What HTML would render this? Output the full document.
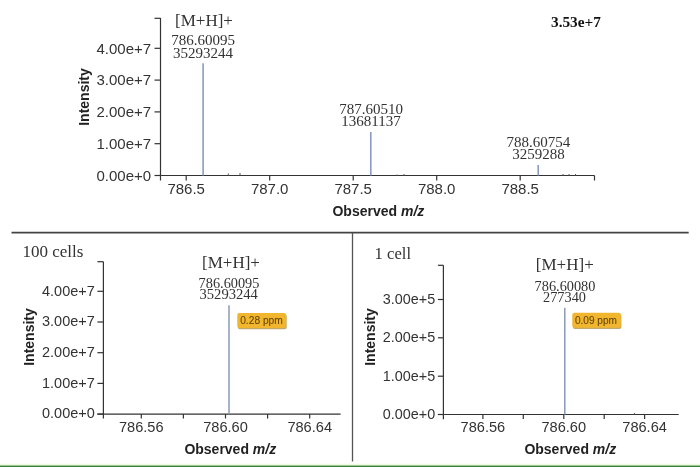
<!DOCTYPE html>
<html><head><meta charset="utf-8"><style>
html,body{margin:0;padding:0;background:#fff;width:700px;height:467px;overflow:hidden}
svg{display:block;will-change:transform}
</style></head><body>
<svg width="700" height="467" viewBox="0 0 700 467">
<rect width="700" height="467" fill="#fff"/>
<line x1="160.5" y1="18" x2="160.5" y2="180.5" stroke="#333" stroke-width="1.2"/>
<line x1="154.5" y1="18.3" x2="160.5" y2="18.3" stroke="#333" stroke-width="1.2"/>
<line x1="154.5" y1="175.5" x2="160.5" y2="175.5" stroke="#333" stroke-width="1.2"/>
<text x="151.1" y="180.7" font-family="Liberation Sans" font-size="15" font-weight="normal" text-anchor="end" fill="#333" >0.00e+0</text>
<line x1="154.5" y1="143.7" x2="160.5" y2="143.7" stroke="#333" stroke-width="1.2"/>
<text x="151.1" y="148.89999999999998" font-family="Liberation Sans" font-size="15" font-weight="normal" text-anchor="end" fill="#333" >1.00e+7</text>
<line x1="154.5" y1="111.9" x2="160.5" y2="111.9" stroke="#333" stroke-width="1.2"/>
<text x="151.1" y="117.10000000000001" font-family="Liberation Sans" font-size="15" font-weight="normal" text-anchor="end" fill="#333" >2.00e+7</text>
<line x1="154.5" y1="80.1" x2="160.5" y2="80.1" stroke="#333" stroke-width="1.2"/>
<text x="151.1" y="85.3" font-family="Liberation Sans" font-size="15" font-weight="normal" text-anchor="end" fill="#333" >3.00e+7</text>
<line x1="154.5" y1="48.3" x2="160.5" y2="48.3" stroke="#333" stroke-width="1.2"/>
<text x="151.1" y="53.5" font-family="Liberation Sans" font-size="15" font-weight="normal" text-anchor="end" fill="#333" >4.00e+7</text>
<line x1="155" y1="175.5" x2="594.5" y2="175.5" stroke="#333" stroke-width="1.2"/>
<line x1="594.5" y1="175.5" x2="594.5" y2="180.5" stroke="#333" stroke-width="1.2"/>
<line x1="186.2" y1="175.5" x2="186.2" y2="180.5" stroke="#333" stroke-width="1.2"/>
<text x="186.2" y="194.4" font-family="Liberation Sans" font-size="15" font-weight="normal" text-anchor="middle" fill="#333" >786.5</text>
<line x1="269.7" y1="175.5" x2="269.7" y2="180.5" stroke="#333" stroke-width="1.2"/>
<text x="269.7" y="194.4" font-family="Liberation Sans" font-size="15" font-weight="normal" text-anchor="middle" fill="#333" >787.0</text>
<line x1="353.2" y1="175.5" x2="353.2" y2="180.5" stroke="#333" stroke-width="1.2"/>
<text x="353.2" y="194.4" font-family="Liberation Sans" font-size="15" font-weight="normal" text-anchor="middle" fill="#333" >787.5</text>
<line x1="436.7" y1="175.5" x2="436.7" y2="180.5" stroke="#333" stroke-width="1.2"/>
<text x="436.7" y="194.4" font-family="Liberation Sans" font-size="15" font-weight="normal" text-anchor="middle" fill="#333" >788.0</text>
<line x1="520.2" y1="175.5" x2="520.2" y2="180.5" stroke="#333" stroke-width="1.2"/>
<text x="520.2" y="194.4" font-family="Liberation Sans" font-size="15" font-weight="normal" text-anchor="middle" fill="#333" >788.5</text>
<line x1="203.1" y1="63.3" x2="203.1" y2="175.5" stroke="#8a9cc4" stroke-width="1.6"/>
<line x1="370.8" y1="132" x2="370.8" y2="175.5" stroke="#8a9cc4" stroke-width="1.6"/>
<line x1="538.2" y1="165" x2="538.2" y2="175.5" stroke="#8a9cc4" stroke-width="1.6"/>
<line x1="228.3" y1="173.5" x2="228.3" y2="175.5" stroke="#555" stroke-width="1"/>
<line x1="240" y1="173.0" x2="240" y2="175.5" stroke="#555" stroke-width="1"/>
<line x1="397" y1="174.5" x2="397" y2="175.5" stroke="#555" stroke-width="1"/>
<line x1="404" y1="174.0" x2="404" y2="175.5" stroke="#555" stroke-width="1"/>
<line x1="563" y1="174.0" x2="563" y2="175.5" stroke="#555" stroke-width="1"/>
<line x1="569" y1="174.0" x2="569" y2="175.5" stroke="#555" stroke-width="1"/>
<line x1="575.5" y1="174.0" x2="575.5" y2="175.5" stroke="#555" stroke-width="1"/>
<text x="204" y="26.4" font-family="Liberation Serif" font-size="17" font-weight="normal" text-anchor="middle" fill="#333" >[M+H]+</text>
<text x="203.2" y="44.8" font-family="Liberation Serif" font-size="15" font-weight="normal" text-anchor="middle" fill="#333" >786.60095</text>
<text x="203" y="57.6" font-family="Liberation Serif" font-size="15" font-weight="normal" text-anchor="middle" fill="#333" >35293244</text>
<text x="371" y="113.6" font-family="Liberation Serif" font-size="15" font-weight="normal" text-anchor="middle" fill="#333" >787.60510</text>
<text x="371" y="126.2" font-family="Liberation Serif" font-size="15" font-weight="normal" text-anchor="middle" fill="#333" >13681137</text>
<text x="538.4" y="146.9" font-family="Liberation Serif" font-size="15" font-weight="normal" text-anchor="middle" fill="#333" >788.60754</text>
<text x="538.4" y="159.4" font-family="Liberation Serif" font-size="15" font-weight="normal" text-anchor="middle" fill="#333" >3259288</text>
<text x="551.0" y="26.8" font-family="Liberation Serif" font-size="15.3" font-weight="bold" text-anchor="start" fill="#111" >3.53e+7</text>
<text x="89.2" y="97.0" font-family="Liberation Sans" font-size="14" font-weight="bold" text-anchor="middle" fill="#222" transform="rotate(-90 89.2 97.0)">Intensity</text>
<text x="378.4" y="216.2" font-family="Liberation Sans" font-size="14" font-weight="bold" text-anchor="middle" fill="#222">Observed <tspan font-style="italic">m/z</tspan></text>
<line x1="11.5" y1="232.7" x2="688.7" y2="232.7" stroke="#444" stroke-width="1.7"/>
<line x1="352.5" y1="232.7" x2="352.5" y2="461.5" stroke="#555" stroke-width="1.3"/>
<text x="22.5" y="256.7" font-family="Liberation Serif" font-size="17" font-weight="normal" text-anchor="start" fill="#333" >100 cells</text>
<line x1="103.4" y1="261.7" x2="103.4" y2="418.6" stroke="#333" stroke-width="1.2"/>
<line x1="97.4" y1="261.7" x2="103.4" y2="261.7" stroke="#333" stroke-width="1.2"/>
<line x1="97.4" y1="414.1" x2="103.4" y2="414.1" stroke="#333" stroke-width="1.2"/>
<text transform="translate(94.8 418.40000000000003) scale(1 1.07)" x="0" y="0" font-family="Liberation Sans" font-size="14.5" font-weight="normal" text-anchor="end" fill="#333" >0.00e+0</text>
<line x1="97.4" y1="383.4" x2="103.4" y2="383.4" stroke="#333" stroke-width="1.2"/>
<text transform="translate(94.8 387.7) scale(1 1.07)" x="0" y="0" font-family="Liberation Sans" font-size="14.5" font-weight="normal" text-anchor="end" fill="#333" >1.00e+7</text>
<line x1="97.4" y1="352.7" x2="103.4" y2="352.7" stroke="#333" stroke-width="1.2"/>
<text transform="translate(94.8 357.0) scale(1 1.07)" x="0" y="0" font-family="Liberation Sans" font-size="14.5" font-weight="normal" text-anchor="end" fill="#333" >2.00e+7</text>
<line x1="97.4" y1="322.0" x2="103.4" y2="322.0" stroke="#333" stroke-width="1.2"/>
<text transform="translate(94.8 326.3) scale(1 1.07)" x="0" y="0" font-family="Liberation Sans" font-size="14.5" font-weight="normal" text-anchor="end" fill="#333" >3.00e+7</text>
<line x1="97.4" y1="291.3" x2="103.4" y2="291.3" stroke="#333" stroke-width="1.2"/>
<text transform="translate(94.8 295.6) scale(1 1.07)" x="0" y="0" font-family="Liberation Sans" font-size="14.5" font-weight="normal" text-anchor="end" fill="#333" >4.00e+7</text>
<line x1="97.4" y1="414.1" x2="340.6" y2="414.1" stroke="#333" stroke-width="1.2"/>
<line x1="141.3" y1="414.1" x2="141.3" y2="418.5" stroke="#333" stroke-width="1.2"/>
<text x="141.3" y="432.3" font-family="Liberation Sans" font-size="14.6" font-weight="normal" text-anchor="middle" fill="#333" >786.56</text>
<line x1="183.4" y1="414.1" x2="183.4" y2="418.5" stroke="#333" stroke-width="1.2"/>
<line x1="225.5" y1="414.1" x2="225.5" y2="418.5" stroke="#333" stroke-width="1.2"/>
<text x="225.5" y="432.3" font-family="Liberation Sans" font-size="14.6" font-weight="normal" text-anchor="middle" fill="#333" >786.60</text>
<line x1="267.6" y1="414.1" x2="267.6" y2="418.5" stroke="#333" stroke-width="1.2"/>
<line x1="309.7" y1="414.1" x2="309.7" y2="418.5" stroke="#333" stroke-width="1.2"/>
<text x="309.7" y="432.3" font-family="Liberation Sans" font-size="14.6" font-weight="normal" text-anchor="middle" fill="#333" >786.64</text>
<line x1="229" y1="305.2" x2="229" y2="414.1" stroke="#8a9ab8" stroke-width="1.5"/>
<text x="231" y="268.0" font-family="Liberation Serif" font-size="17" font-weight="normal" text-anchor="middle" fill="#333" >[M+H]+</text>
<text x="229" y="287.6" font-family="Liberation Serif" font-size="14.3" font-weight="normal" text-anchor="middle" fill="#333" >786.60095</text>
<text x="228.7" y="299.1" font-family="Liberation Serif" font-size="14.6" font-weight="normal" text-anchor="middle" fill="#333" >35293244</text>
<text x="33.9" y="337.0" font-family="Liberation Sans" font-size="14" font-weight="bold" text-anchor="middle" fill="#222" transform="rotate(-90 33.9 337.0)">Intensity</text>
<text x="230.3" y="453.7" font-family="Liberation Sans" font-size="14" font-weight="bold" text-anchor="middle" fill="#222">Observed <tspan font-style="italic">m/z</tspan></text>
<rect x="237.9" y="314.4" width="48.8" height="14.8" rx="2" fill="#9a7010" opacity="0.6" filter="url(#bl)"/>
<rect x="237.3" y="313.0" width="48.8" height="15.0" rx="2" fill="#f2b62e"/>
<text x="240.2" y="323.8" font-family="Liberation Sans" font-size="10" fill="#654806" stroke="#654806" stroke-width="0.1" textLength="42.6" lengthAdjust="spacingAndGlyphs">0.28 ppm</text>
<text x="374.6" y="258.6" font-family="Liberation Serif" font-size="16.6" font-weight="normal" text-anchor="start" fill="#333" >1 cell</text>
<line x1="443.4" y1="265.3" x2="443.4" y2="419.2" stroke="#333" stroke-width="1.2"/>
<line x1="437.9" y1="265.3" x2="443.4" y2="265.3" stroke="#333" stroke-width="1.2"/>
<line x1="437.9" y1="414.5" x2="443.4" y2="414.5" stroke="#333" stroke-width="1.2"/>
<text transform="translate(435.2 418.8) scale(1 1.07)" x="0" y="0" font-family="Liberation Sans" font-size="14.4" font-weight="normal" text-anchor="end" fill="#333" >0.00e+0</text>
<line x1="437.9" y1="376.2" x2="443.4" y2="376.2" stroke="#333" stroke-width="1.2"/>
<text transform="translate(435.2 380.5) scale(1 1.07)" x="0" y="0" font-family="Liberation Sans" font-size="14.4" font-weight="normal" text-anchor="end" fill="#333" >1.00e+5</text>
<line x1="437.9" y1="337.8" x2="443.4" y2="337.8" stroke="#333" stroke-width="1.2"/>
<text transform="translate(435.2 342.1) scale(1 1.07)" x="0" y="0" font-family="Liberation Sans" font-size="14.4" font-weight="normal" text-anchor="end" fill="#333" >2.00e+5</text>
<line x1="437.9" y1="299.5" x2="443.4" y2="299.5" stroke="#333" stroke-width="1.2"/>
<text transform="translate(435.2 303.8) scale(1 1.07)" x="0" y="0" font-family="Liberation Sans" font-size="14.4" font-weight="normal" text-anchor="end" fill="#333" >3.00e+5</text>
<line x1="437.9" y1="414.5" x2="678.7" y2="414.5" stroke="#333" stroke-width="1.2"/>
<line x1="482.9" y1="414.5" x2="482.9" y2="418.9" stroke="#333" stroke-width="1.2"/>
<text x="482.9" y="432.3" font-family="Liberation Sans" font-size="14.6" font-weight="normal" text-anchor="middle" fill="#333" >786.56</text>
<line x1="523.3" y1="414.5" x2="523.3" y2="418.9" stroke="#333" stroke-width="1.2"/>
<line x1="563.8" y1="414.5" x2="563.8" y2="418.9" stroke="#333" stroke-width="1.2"/>
<text x="563.8" y="432.3" font-family="Liberation Sans" font-size="14.6" font-weight="normal" text-anchor="middle" fill="#333" >786.60</text>
<line x1="604.2" y1="414.5" x2="604.2" y2="418.9" stroke="#333" stroke-width="1.2"/>
<line x1="644.6" y1="414.5" x2="644.6" y2="418.9" stroke="#333" stroke-width="1.2"/>
<text x="644.6" y="432.3" font-family="Liberation Sans" font-size="14.6" font-weight="normal" text-anchor="middle" fill="#333" >786.64</text>
<line x1="564.8" y1="307.8" x2="564.8" y2="414.5" stroke="#8a9ab8" stroke-width="1.5"/>
<line x1="634.4" y1="413" x2="634.4" y2="414.5" stroke="#555" stroke-width="1"/>
<text x="564.8" y="270.0" font-family="Liberation Serif" font-size="17" font-weight="normal" text-anchor="middle" fill="#333" >[M+H]+</text>
<text x="565" y="290.8" font-family="Liberation Serif" font-size="14.3" font-weight="normal" text-anchor="middle" fill="#333" >786.60080</text>
<text x="564.5" y="302.4" font-family="Liberation Serif" font-size="14.3" font-weight="normal" text-anchor="middle" fill="#333" >277340</text>
<text x="375.2" y="337.0" font-family="Liberation Sans" font-size="14" font-weight="bold" text-anchor="middle" fill="#222" transform="rotate(-90 375.2 337.0)">Intensity</text>
<text x="570.3" y="453.7" font-family="Liberation Sans" font-size="14" font-weight="bold" text-anchor="middle" fill="#222">Observed <tspan font-style="italic">m/z</tspan></text>
<rect x="572.9" y="314.2" width="48.5" height="14.8" rx="2" fill="#9a7010" opacity="0.6" filter="url(#bl)"/>
<rect x="572.3" y="312.8" width="48.5" height="15.0" rx="2" fill="#f2b62e"/>
<text x="574.9" y="323.6" font-family="Liberation Sans" font-size="10" fill="#654806" stroke="#654806" stroke-width="0.1" textLength="42.0" lengthAdjust="spacingAndGlyphs">0.09 ppm</text>
<defs><filter id="bl" x="-20%" y="-50%" width="140%" height="200%"><feGaussianBlur stdDeviation="0.6"/></filter><linearGradient id="g" x1="0" y1="0" x2="0" y2="1"><stop offset="0" stop-color="#ffffff" stop-opacity="0"/><stop offset="1" stop-color="#d4f5c0"/></linearGradient></defs>
<rect x="0" y="462.3" width="700" height="3.4" fill="url(#g)"/>
<rect x="0" y="465.6" width="700" height="1.4" fill="#3a8034"/>
</svg>
</body></html>
